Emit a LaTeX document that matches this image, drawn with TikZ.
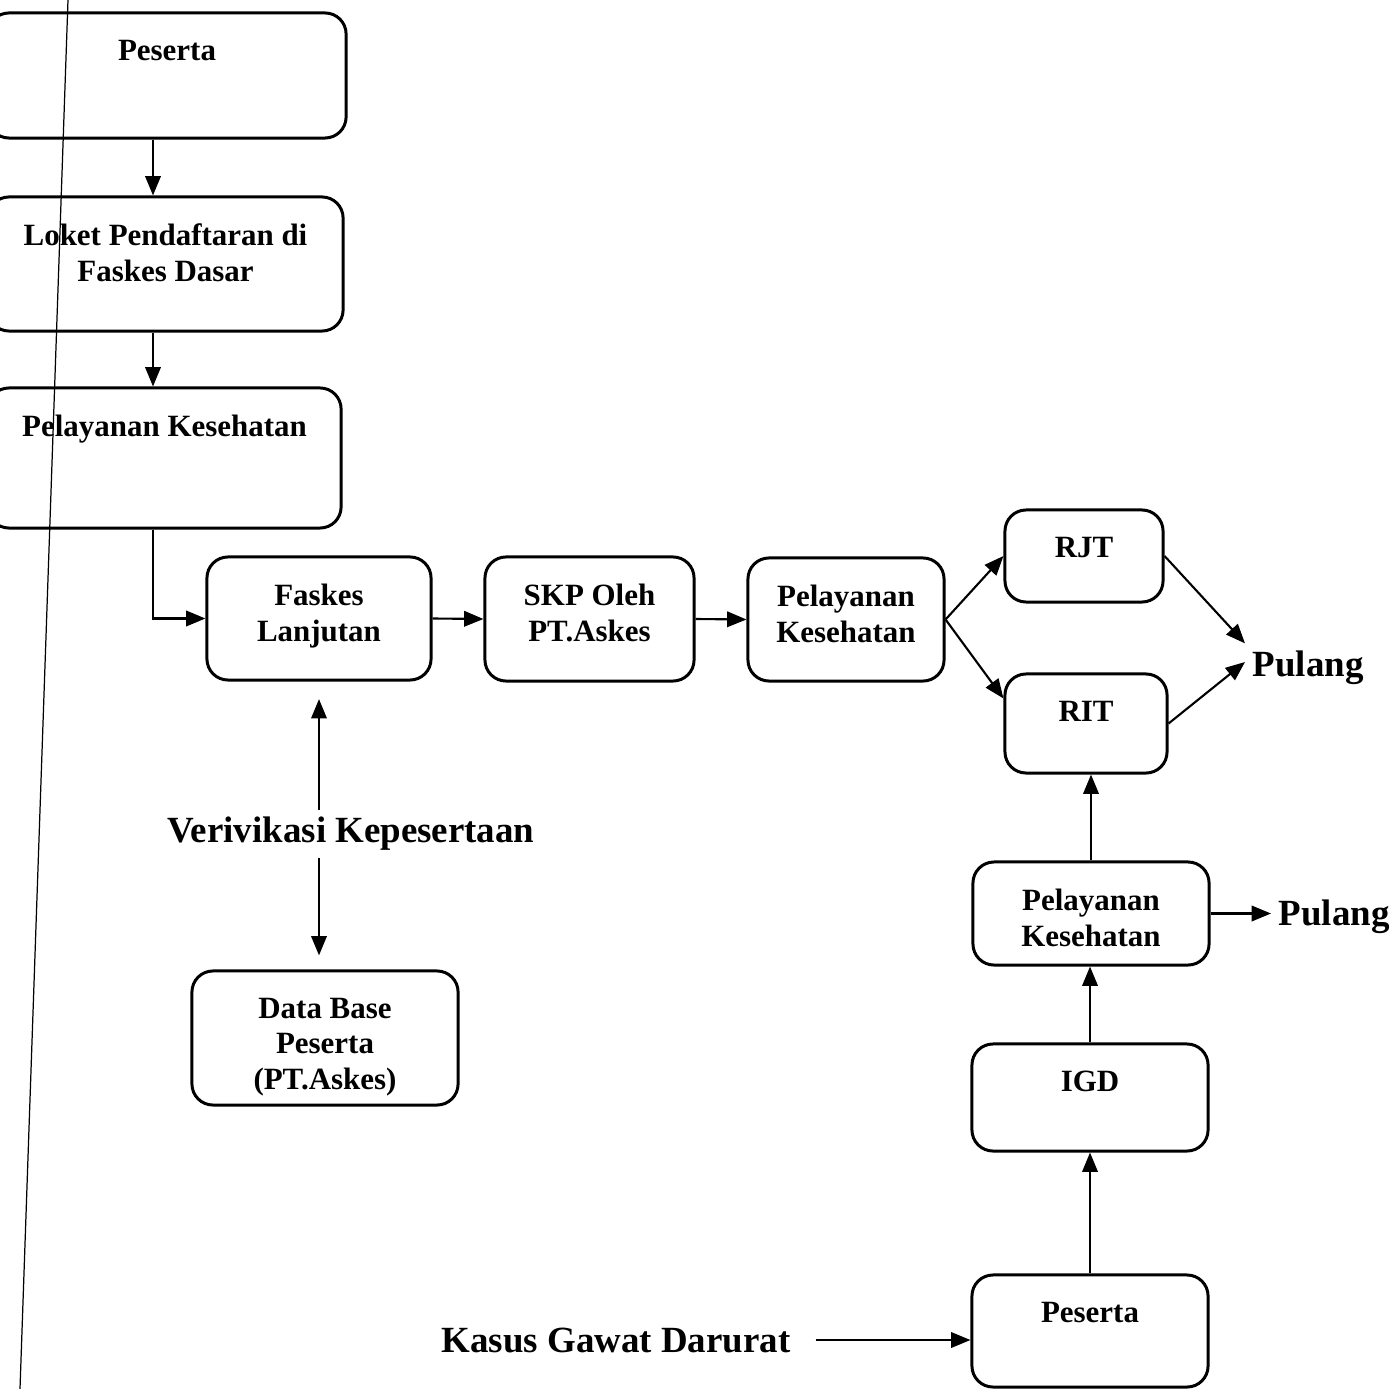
\documentclass[tikz,border=0pt]{standalone}
\usepackage{fontspec}
\setmainfont{Liberation Serif}
\usetikzlibrary{arrows.meta}

\begin{document}
\begin{tikzpicture}[x=0.01cm, y=-0.01cm, >={Triangle[length=5.5pt,width=4.4pt]}]
    % Styles
    \tikzstyle{flowbox}=[rectangle, rounded corners=6pt, draw, line width=0.85pt, inner sep=0pt]
    \tikzstyle{boxtext}=[anchor=north, yshift=-0.28cm, inner sep=0pt, align=center, font=\fontsize{8.8}{10.1}\selectfont\bfseries]
    \tikzstyle{bigtext}=[inner sep=2pt, font=\fontsize{10.5}{12}\selectfont\bfseries]
    \tikzstyle{flow}=[->, line width=0.6pt]

    \useasboundingbox (0,0) rectangle (1395,1389);
    \clip (0,0) rectangle (1395,1389);

    % Scan margin line
    \draw[line width=0.35pt] (68,0) -- (20,1389);

    % Nodes
    \node[flowbox, minimum width=3.58cm, minimum height=1.25cm, label={[boxtext]north:Peserta}] (peserta) at (167,75.5) {};
    \node[flowbox, minimum width=3.55cm, minimum height=1.34cm, label={[boxtext]north:Loket Pendaftaran di\\Faskes Dasar}] (loket) at (165.5,264) {};
    \node[flowbox, minimum width=3.53cm, minimum height=1.40cm, label={[boxtext]north:Pelayanan Kesehatan}] (layanan1) at (164.5,458) {};
    \node[flowbox, minimum width=2.24cm, minimum height=1.23cm, label={[boxtext]north:Faskes\\Lanjutan}] (faskes) at (319,618.5) {};
    \node[flowbox, minimum width=2.09cm, minimum height=1.24cm, label={[boxtext]north:SKP Oleh\\PT.Askes}] (skp) at (589.5,619) {};
    \node[flowbox, minimum width=1.96cm, minimum height=1.23cm, label={[boxtext]north:Pelayanan\\Kesehatan}] (layanan2) at (846,619.5) {};
    \node[flowbox, minimum width=1.58cm, minimum height=0.92cm, label={[boxtext]north:RJT}] (rjt) at (1084,556) {};
    \node[flowbox, minimum width=1.62cm, minimum height=0.99cm, label={[boxtext]north:RIT}] (rit) at (1086,723.5) {};
    \node[flowbox, minimum width=2.36cm, minimum height=1.03cm, label={[boxtext]north:Pelayanan\\Kesehatan}] (layanan3) at (1091,913.5) {};
    \node[flowbox, minimum width=2.36cm, minimum height=1.07cm, label={[boxtext]north:IGD}] (igd) at (1090,1097.5) {};
    \node[flowbox, minimum width=2.36cm, minimum height=1.12cm, label={[boxtext]north:Peserta}] (peserta2) at (1090,1331) {};
    \node[flowbox, minimum width=2.66cm, minimum height=1.34cm, label={[boxtext]north:Data Base\\Peserta\\(PT.Askes)}] (database) at (325,1038) {};

    \node[bigtext, anchor=west] (pulangA) at (1245,668) {Pulang};
    \node[bigtext, anchor=west] (pulangB) at (1271,917) {Pulang};
    \node[bigtext] (kasus) at (616,1340) {Kasus Gawat Darurat};

    % Arrows
    \coordinate (col) at (153,0);
    \draw[flow] (peserta.south -| col) -- (loket.north -| col);
    \draw[flow] (loket.south -| col) -- (layanan1.north -| col);
    \draw[flow] (layanan1.south -| col) |- (faskes.west);
    \draw[flow] (faskes.east) -- (skp.west);
    \draw[flow] (skp.east) -- (layanan2.west);
    \draw[flow] (layanan2.east) -- (rjt.west);
    \draw[flow] (layanan2.east) -- ([yshift=0.25cm]rit.west);
    \draw[flow] (rjt.east) -- (pulangA.north west);
    \draw[flow] (rit.east) -- ([yshift=0.06cm]pulangA.west);
    \draw[flow] (layanan3.north) -- (layanan3.north |- rit.south);
    \draw[flow] (layanan3.east) -- (layanan3.east -| pulangB.west);
    \draw[flow] (igd.north) -- (igd.north |- layanan3.south);
    \draw[flow] (peserta2.north) -- (peserta2.north |- igd.south);
    \draw[flow, shorten <=5pt] (kasus.east) -- (kasus.east -| peserta2.west);
    \draw[<->, line width=0.6pt, shorten <=5pt, shorten >=4pt] (faskes.south) -- (faskes.south |- database.north);
    \node[bigtext, fill=white] (verif) at (351,834) {Verivikasi Kepesertaan};
\end{tikzpicture}
\end{document}
